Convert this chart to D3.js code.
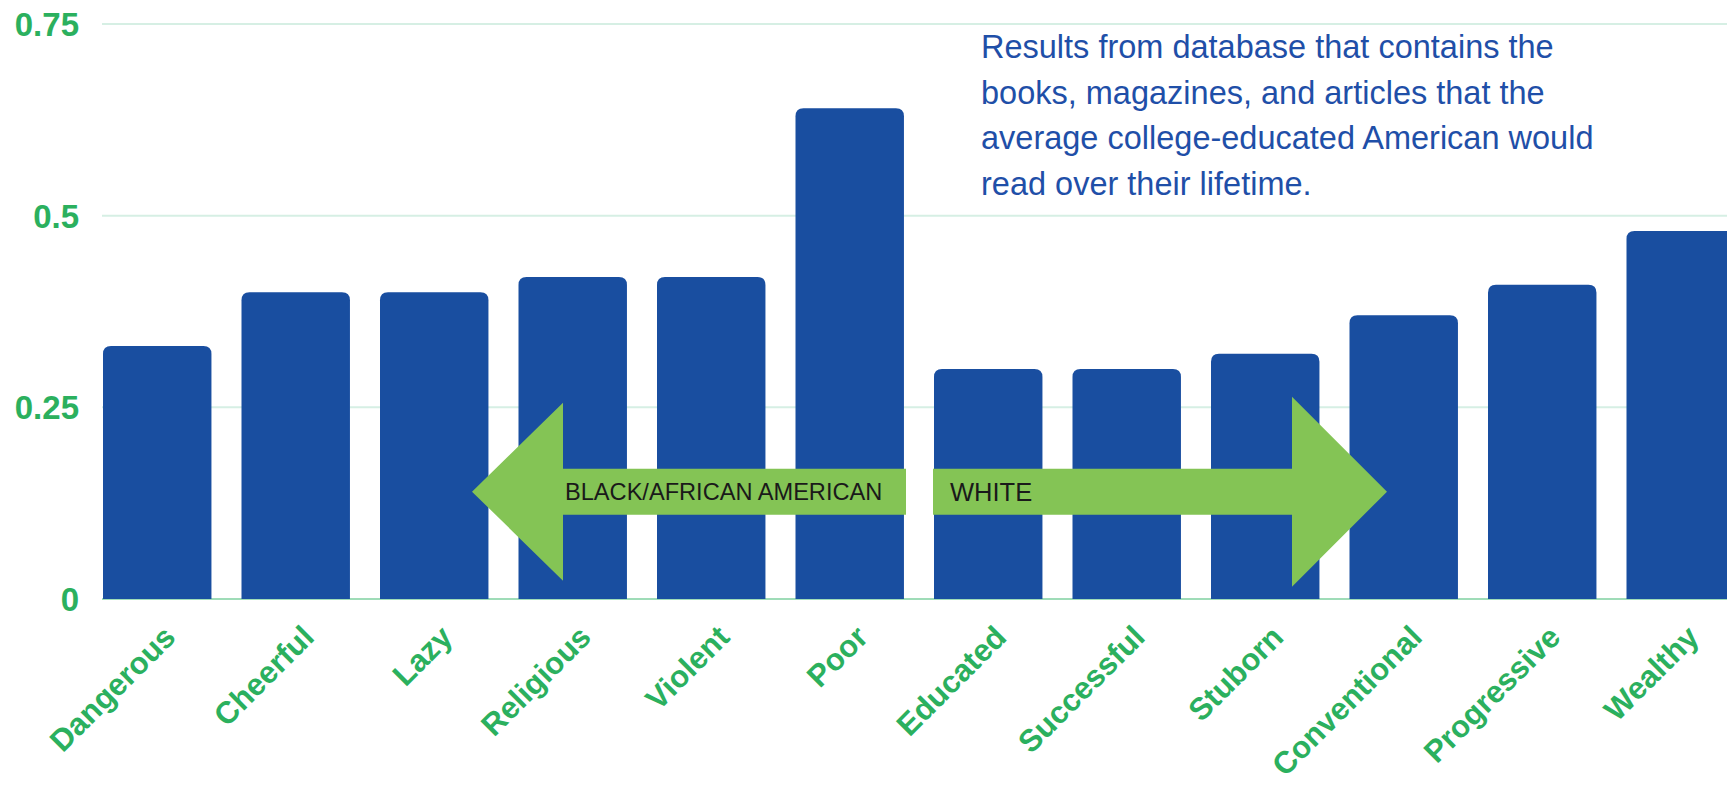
<!DOCTYPE html>
<html>
<head>
<meta charset="utf-8">
<script src="https://cdn.jsdelivr.net/npm/d3@7"></script>
<style>
  html, body { margin: 0; padding: 0; background: #fff; overflow: hidden; }
  svg { display: block; font-family: "Liberation Sans", Arial, sans-serif; }
</style>
</head>
<body>
<svg id="chart" width="1727" height="787"></svg>
<script>
const categories = ['Dangerous', 'Cheerful', 'Lazy', 'Religious', 'Violent', 'Poor',
  'Educated', 'Successful', 'Stuborn', 'Conventional', 'Progressive', 'Wealthy'];
const values = [0.33, 0.40, 0.40, 0.42, 0.42, 0.64, 0.30, 0.30, 0.32, 0.37, 0.41, 0.48];
const yTicks = [0, 0.25, 0.5, 0.75];
const yTickLabels = ['0', '0.25', '0.5', '0.75'];
const noteLines = [
  'Results from database that contains the',
  'books, magazines, and articles that the',
  'average college-educated American would',
  'read over their lifetime.'
];
const leftArrowLabel = 'BLACK/AFRICAN AMERICAN';
const rightArrowLabel = 'WHITE';

const BAR = '#194ea0';
const GREEN = '#2bb05e';
const ARROW = '#84c455';

const svg = d3.select('#chart');

const plotLeft = 102;
const plotRight = 1727;
const barStart = 103;
const step = 138.5;
const padInner = 0.217;

const x = d3.scaleBand()
  .domain(categories)
  .range([barStart, barStart + step * (categories.length - padInner)])
  .paddingInner(padInner)
  .paddingOuter(0);

const y = d3.scaleLinear()
  .domain([0, 0.75])
  .range([599, 24]);

// gridlines
svg.append('g')
  .selectAll('line')
  .data(yTicks)
  .enter().append('line')
  .attr('x1', plotLeft)
  .attr('x2', plotRight)
  .attr('y1', d => y(d))
  .attr('y2', d => y(d))
  .attr('stroke', d => d === 0 ? '#9fdcb8' : '#d6efe4')
  .attr('stroke-width', 2);

// y tick labels
svg.append('g')
  .selectAll('text')
  .data(yTicks)
  .enter().append('text')
  .attr('x', 79)
  .attr('y', d => y(d))
  .attr('dy', '0.36em')
  .attr('text-anchor', 'end')
  .attr('font-size', 33)
  .attr('font-weight', 'bold')
  .attr('fill', GREEN)
  .text((d, i) => yTickLabels[i]);

// bars, rounded on top
const r = 8;
function barPath(d, i) {
  const x0 = x(categories[i]);
  const w = x.bandwidth();
  const top = y(d);
  const bottom = y(0);
  return `M${x0},${bottom}V${top + r}Q${x0},${top} ${x0 + r},${top}` +
    `H${x0 + w - r}Q${x0 + w},${top} ${x0 + w},${top + r}V${bottom}Z`;
}

svg.append('g')
  .selectAll('path')
  .data(values)
  .enter().append('path')
  .attr('d', barPath)
  .attr('fill', BAR);

// category labels
svg.append('g')
  .selectAll('text')
  .data(categories)
  .enter().append('text')
  .attr('transform', d => `translate(${x(d) + x.bandwidth() / 2 + 20},${y(0) + 40}) rotate(-45)`)
  .attr('text-anchor', 'end')
  .attr('font-size', 31)
  .attr('font-weight', 'bold')
  .attr('fill', GREEN)
  .text(d => d);

// arrows
const midY = y(0.14);
const shaftH = 23;

function arrowPath(tipX, headX, shaftEnd, headH) {
  return `M${tipX},${midY}L${headX},${midY - headH}V${midY - shaftH}H${shaftEnd}` +
    `V${midY + shaftH}H${headX}V${midY + headH}Z`;
}

const arrows = svg.append('g');
arrows.append('path')
  .attr('d', arrowPath(472, 563, 906, 89))
  .attr('fill', ARROW);
arrows.append('path')
  .attr('d', arrowPath(1387, 1292, 933, 95))
  .attr('fill', ARROW);

arrows.append('text')
  .attr('x', 565)
  .attr('y', midY)
  .attr('dy', '0.36em')
  .attr('font-size', 23.6)
  .attr('fill', '#1a1a1a')
  .text(leftArrowLabel);

arrows.append('text')
  .attr('x', 950)
  .attr('y', midY)
  .attr('dy', '0.36em')
  .attr('font-size', 25.5)
  .attr('fill', '#1a1a1a')
  .text(rightArrowLabel);

// note
const note = svg.append('text')
  .attr('x', 981)
  .attr('y', 58)
  .attr('font-size', 32.5)
  .attr('fill', '#1f4fa8');

note.selectAll('tspan')
  .data(noteLines)
  .enter().append('tspan')
  .attr('x', 981)
  .attr('dy', (d, i) => i === 0 ? 0 : 45.7)
  .text(d => d);
</script>
</body>
</html>
